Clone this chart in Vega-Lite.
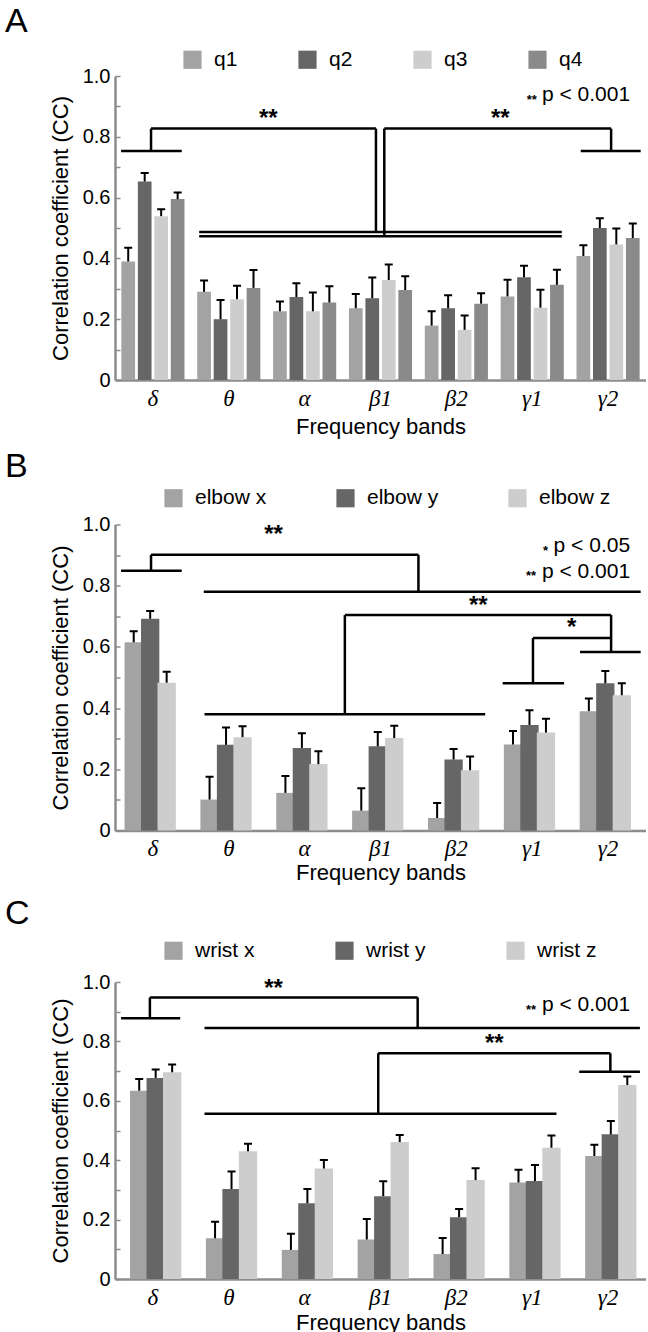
{
  "$schema": "https://vega.github.io/schema/vega-lite/v6.json",
  "padding": {"left": 5, "top": 5, "right": 0, "bottom": 0},
  "spacing": 12.5,
  "resolve": {"scale": {"color": "independent"}, "legend": {"color": "independent"}},
  "config": {
    "view": {"stroke": null},
    "font": "Liberation Sans",
    "axisY": {
      "values": [0, 0.1, 0.2, 0.3, 0.4, 0.5, 0.6, 0.7, 0.8, 0.9, 1.0],
      "labelExpr": "round(datum.value*10) % 2 == 0 ? (datum.value == 0 ? '0' : format(datum.value, '.1f')) : ''",
      "labelFontSize": 20, "labelColor": "black", "labelFont": "Liberation Sans",
      "domainColor": "#8c8c8c", "domainWidth": 2.5, "tickColor": "#8c8c8c", "tickWidth": 1.5, "tickSize": -5,
      "labelPadding": 10, "grid": false,
      "titleFontSize": 22, "titleFontWeight": "normal", "titleColor": "black", "titlePadding": 10
    },
    "axisX": {
      "labelFont": "Liberation Serif", "labelFontStyle": "italic", "labelFontSize": 23, "labelColor": "black",
      "labelAngle": 0, "ticks": false, "labelPadding": 7, "domainColor": "#8c8c8c", "domainWidth": 2.5,
      "titleFontSize": 22, "titleFontWeight": "normal", "titleColor": "black"
    },
    "legend": {
      "orient": "none", "direction": "horizontal", "symbolType": "square", "symbolSize": 330,
      "symbolStrokeWidth": 0, "labelFontSize": 21, "labelColor": "black", "labelOffset": 11,
      "title": null, "gridAlign": "all"
    },
    "title": {"anchor": "start", "frame": "group", "fontSize": 34, "fontWeight": "normal", "color": "black", "dx": -110}
  },
  "datasets": {
    "barsA": [
      {"band": "δ", "series": "q1", "value": 0.39, "err": 0.435},
      {"band": "δ", "series": "q2", "value": 0.653, "err": 0.681},
      {"band": "δ", "series": "q3", "value": 0.539, "err": 0.562},
      {"band": "δ", "series": "q4", "value": 0.595, "err": 0.617},
      {"band": "θ", "series": "q1", "value": 0.29, "err": 0.327},
      {"band": "θ", "series": "q2", "value": 0.2, "err": 0.263},
      {"band": "θ", "series": "q3", "value": 0.266, "err": 0.31},
      {"band": "θ", "series": "q4", "value": 0.303, "err": 0.362},
      {"band": "α", "series": "q1", "value": 0.226, "err": 0.258},
      {"band": "α", "series": "q2", "value": 0.273, "err": 0.318},
      {"band": "α", "series": "q3", "value": 0.226, "err": 0.288},
      {"band": "α", "series": "q4", "value": 0.255, "err": 0.308},
      {"band": "β1", "series": "q1", "value": 0.236, "err": 0.283},
      {"band": "β1", "series": "q2", "value": 0.269, "err": 0.337},
      {"band": "β1", "series": "q3", "value": 0.329, "err": 0.38},
      {"band": "β1", "series": "q4", "value": 0.296, "err": 0.341},
      {"band": "β2", "series": "q1", "value": 0.179, "err": 0.226},
      {"band": "β2", "series": "q2", "value": 0.236, "err": 0.279},
      {"band": "β2", "series": "q3", "value": 0.165, "err": 0.212},
      {"band": "β2", "series": "q4", "value": 0.251, "err": 0.285},
      {"band": "γ1", "series": "q1", "value": 0.275, "err": 0.33},
      {"band": "γ1", "series": "q2", "value": 0.338, "err": 0.376},
      {"band": "γ1", "series": "q3", "value": 0.238, "err": 0.297},
      {"band": "γ1", "series": "q4", "value": 0.313, "err": 0.363},
      {"band": "γ2", "series": "q1", "value": 0.408, "err": 0.443},
      {"band": "γ2", "series": "q2", "value": 0.5, "err": 0.532},
      {"band": "γ2", "series": "q3", "value": 0.446, "err": 0.498},
      {"band": "γ2", "series": "q4", "value": 0.467, "err": 0.515}
    ],
    "barsB": [
      {"band": "δ", "series": "elbow x", "value": 0.615, "err": 0.651},
      {"band": "δ", "series": "elbow y", "value": 0.692, "err": 0.717},
      {"band": "δ", "series": "elbow z", "value": 0.483, "err": 0.519},
      {"band": "θ", "series": "elbow x", "value": 0.101, "err": 0.176},
      {"band": "θ", "series": "elbow y", "value": 0.28, "err": 0.337},
      {"band": "θ", "series": "elbow z", "value": 0.305, "err": 0.341},
      {"band": "α", "series": "elbow x", "value": 0.123, "err": 0.178},
      {"band": "α", "series": "elbow y", "value": 0.27, "err": 0.318},
      {"band": "α", "series": "elbow z", "value": 0.217, "err": 0.259},
      {"band": "β1", "series": "elbow x", "value": 0.065, "err": 0.138},
      {"band": "β1", "series": "elbow y", "value": 0.275, "err": 0.322},
      {"band": "β1", "series": "elbow z", "value": 0.302, "err": 0.342},
      {"band": "β2", "series": "elbow x", "value": 0.041, "err": 0.09},
      {"band": "β2", "series": "elbow y", "value": 0.232, "err": 0.266},
      {"band": "β2", "series": "elbow z", "value": 0.197, "err": 0.242},
      {"band": "γ1", "series": "elbow x", "value": 0.281, "err": 0.325},
      {"band": "γ1", "series": "elbow y", "value": 0.345, "err": 0.393},
      {"band": "γ1", "series": "elbow z", "value": 0.32, "err": 0.365},
      {"band": "γ2", "series": "elbow x", "value": 0.39, "err": 0.431},
      {"band": "γ2", "series": "elbow y", "value": 0.481, "err": 0.521},
      {"band": "γ2", "series": "elbow z", "value": 0.442, "err": 0.481}
    ],
    "barsC": [
      {"band": "δ", "series": "wrist x", "value": 0.634, "err": 0.673},
      {"band": "δ", "series": "wrist y", "value": 0.677, "err": 0.705},
      {"band": "δ", "series": "wrist z", "value": 0.696, "err": 0.722},
      {"band": "θ", "series": "wrist x", "value": 0.137, "err": 0.193},
      {"band": "θ", "series": "wrist y", "value": 0.303, "err": 0.362},
      {"band": "θ", "series": "wrist z", "value": 0.43, "err": 0.455},
      {"band": "α", "series": "wrist x", "value": 0.098, "err": 0.152},
      {"band": "α", "series": "wrist y", "value": 0.255, "err": 0.303},
      {"band": "α", "series": "wrist z", "value": 0.372, "err": 0.401},
      {"band": "β1", "series": "wrist x", "value": 0.133, "err": 0.202},
      {"band": "β1", "series": "wrist y", "value": 0.279, "err": 0.329},
      {"band": "β1", "series": "wrist z", "value": 0.461, "err": 0.485},
      {"band": "β2", "series": "wrist x", "value": 0.084, "err": 0.138},
      {"band": "β2", "series": "wrist y", "value": 0.208, "err": 0.236},
      {"band": "β2", "series": "wrist z", "value": 0.333, "err": 0.373},
      {"band": "γ1", "series": "wrist x", "value": 0.325, "err": 0.368},
      {"band": "γ1", "series": "wrist y", "value": 0.33, "err": 0.384},
      {"band": "γ1", "series": "wrist z", "value": 0.442, "err": 0.483},
      {"band": "γ2", "series": "wrist x", "value": 0.414, "err": 0.452},
      {"band": "γ2", "series": "wrist y", "value": 0.487, "err": 0.532},
      {"band": "γ2", "series": "wrist z", "value": 0.653, "err": 0.682}
    ],
    "segA": [
      {"x1": 0.08, "x2": 0.88, "y1": 0.753, "y2": 0.753},
      {"x1": 0.475, "x2": 0.475, "y1": 0.753, "y2": 0.827},
      {"x1": 0.475, "x2": 3.44, "y1": 0.827, "y2": 0.827},
      {"x1": 3.44, "x2": 3.44, "y1": 0.827, "y2": 0.487},
      {"x1": 3.55, "x2": 6.54, "y1": 0.827, "y2": 0.827},
      {"x1": 3.55, "x2": 3.55, "y1": 0.827, "y2": 0.473},
      {"x1": 6.54, "x2": 6.54, "y1": 0.827, "y2": 0.753},
      {"x1": 6.14, "x2": 6.93, "y1": 0.753, "y2": 0.753},
      {"x1": 1.11, "x2": 5.89, "y1": 0.487, "y2": 0.487},
      {"x1": 1.11, "x2": 5.89, "y1": 0.473, "y2": 0.473}
    ],
    "starA": [
      {"x": 2.02, "y": 0.857, "label": "**"},
      {"x": 5.08, "y": 0.858, "label": "**"}
    ],
    "noteA": [
      {"x": 6.79, "y": 0.936, "label": "p < 0.001"}
    ],
    "smallA": [
      {"x": 5.56, "y": 0.921, "label": "**"}
    ],
    "segB": [
      {"x1": 0.08, "x2": 0.88, "y1": 0.849, "y2": 0.849},
      {"x1": 0.475, "x2": 0.475, "y1": 0.849, "y2": 0.901},
      {"x1": 0.475, "x2": 4.0, "y1": 0.901, "y2": 0.901},
      {"x1": 4.0, "x2": 4.0, "y1": 0.901, "y2": 0.78},
      {"x1": 1.17, "x2": 6.93, "y1": 0.78, "y2": 0.78},
      {"x1": 3.03, "x2": 6.54, "y1": 0.704, "y2": 0.704},
      {"x1": 3.03, "x2": 3.03, "y1": 0.704, "y2": 0.38},
      {"x1": 1.18, "x2": 4.88, "y1": 0.38, "y2": 0.38},
      {"x1": 6.54, "x2": 6.54, "y1": 0.704, "y2": 0.583},
      {"x1": 6.13, "x2": 6.93, "y1": 0.583, "y2": 0.583},
      {"x1": 5.51, "x2": 6.54, "y1": 0.629, "y2": 0.629},
      {"x1": 5.51, "x2": 5.51, "y1": 0.629, "y2": 0.481},
      {"x1": 5.11, "x2": 5.92, "y1": 0.481, "y2": 0.481}
    ],
    "starB": [
      {"x": 2.09, "y": 0.965, "label": "**"},
      {"x": 4.79, "y": 0.734, "label": "**"},
      {"x": 6.02, "y": 0.662, "label": "*"}
    ],
    "noteB": [
      {"x": 6.79, "y": 0.929, "label": "p < 0.05"},
      {"x": 6.79, "y": 0.844, "label": "p < 0.001"}
    ],
    "smallB": [
      {"x": 5.71, "y": 0.915, "label": "*"},
      {"x": 5.55, "y": 0.833, "label": "**"}
    ],
    "segC": [
      {"x1": 0.08, "x2": 0.86, "y1": 0.878, "y2": 0.878},
      {"x1": 0.46, "x2": 0.46, "y1": 0.878, "y2": 0.948},
      {"x1": 0.46, "x2": 3.99, "y1": 0.948, "y2": 0.948},
      {"x1": 3.99, "x2": 3.99, "y1": 0.948, "y2": 0.845},
      {"x1": 1.18, "x2": 6.92, "y1": 0.845, "y2": 0.845},
      {"x1": 3.47, "x2": 6.53, "y1": 0.76, "y2": 0.76},
      {"x1": 3.47, "x2": 3.47, "y1": 0.76, "y2": 0.556},
      {"x1": 1.18, "x2": 5.82, "y1": 0.556, "y2": 0.556},
      {"x1": 6.53, "x2": 6.53, "y1": 0.76, "y2": 0.698},
      {"x1": 6.12, "x2": 6.92, "y1": 0.698, "y2": 0.698}
    ],
    "starC": [
      {"x": 2.09, "y": 0.976, "label": "**"},
      {"x": 5.0, "y": 0.791, "label": "**"}
    ],
    "noteC": [
      {"x": 6.79, "y": 0.922, "label": "p < 0.001"}
    ],
    "smallC": [
      {"x": 5.55, "y": 0.906, "label": "**"}
    ]
  },
  "vconcat": [
    {
      "width": 531, "height": 304,
      "title": {"text": "A", "offset": 10},
      "resolve": {"scale": {"x": "independent"}},
      "layer": [
        {
          "data": {"name": "barsA"},
          "encoding": {
            "x": {"field": "band", "type": "nominal", "sort": ["δ", "θ", "α", "β1", "β2", "γ1", "γ2"], "scale": {"type": "band", "paddingInner": 0.276, "paddingOuter": 0.138}, "title": "Frequency bands", "axis": {"titlePadding": 6}},
            "xOffset": {"field": "series", "type": "nominal", "sort": ["q1", "q2", "q3", "q4"]}
          },
          "layer": [
            {
              "mark": {"type": "bar", "width": 13.7},
              "encoding": {
                "y": {"field": "value", "type": "quantitative", "scale": {"domain": [0, 1], "nice": false}, "title": "Correlation coefficient (CC)"},
                "color": {"field": "series", "type": "nominal", "scale": {"domain": ["q1", "q2", "q3", "q4"], "range": ["#a3a3a3", "#666666", "#cdcdcd", "#8a8a8a"]}, "legend": {"legendX": 67, "legendY": -27, "columnPadding": 59}}
              }
            },
            {
              "mark": {"type": "bar", "width": 2, "color": "black"},
              "encoding": {"y": {"field": "value", "type": "quantitative"}, "y2": {"field": "err"}}
            },
            {
              "mark": {"type": "bar", "width": 8, "color": "black", "stroke": "black", "strokeWidth": 2},
              "encoding": {"y": {"field": "err", "type": "quantitative"}, "y2": {"field": "err"}}
            }
          ]
        },
        {
          "layer": [
            {
              "data": {"name": "segA"},
              "mark": {"type": "rule", "color": "black", "strokeWidth": 2.5},
              "encoding": {
                "x": {"field": "x1", "type": "quantitative", "scale": {"domain": [0, 7], "nice": false, "zero": false}, "axis": null},
                "x2": {"field": "x2"},
                "y": {"field": "y1", "type": "quantitative"},
                "y2": {"field": "y2"}
              }
            },
            {
              "data": {"name": "starA"},
              "mark": {"type": "text", "fontSize": 24, "fontWeight": "bold", "align": "center", "baseline": "middle", "color": "black"},
              "encoding": {"x": {"field": "x", "type": "quantitative", "axis": null}, "y": {"field": "y", "type": "quantitative"}, "text": {"field": "label"}}
            },
            {
              "data": {"name": "noteA"},
              "mark": {"type": "text", "fontSize": 21, "align": "right", "baseline": "middle", "color": "black"},
              "encoding": {"x": {"field": "x", "type": "quantitative", "axis": null}, "y": {"field": "y", "type": "quantitative"}, "text": {"field": "label"}}
            },
            {
              "data": {"name": "smallA"},
              "mark": {"type": "text", "fontSize": 13, "fontWeight": "bold", "align": "right", "baseline": "middle", "color": "black"},
              "encoding": {"x": {"field": "x", "type": "quantitative", "axis": null}, "y": {"field": "y", "type": "quantitative"}, "text": {"field": "label"}}
            }
          ]
        }
      ]
    },
    {
      "width": 531, "height": 306,
      "title": {"text": "B", "offset": 3.5},
      "resolve": {"scale": {"x": "independent"}},
      "layer": [
        {
          "data": {"name": "barsB"},
          "encoding": {
            "x": {"field": "band", "type": "nominal", "sort": ["δ", "θ", "α", "β1", "β2", "γ1", "γ2"], "scale": {"type": "band", "paddingInner": 0.276, "paddingOuter": 0.138}, "title": "Frequency bands", "axis": {"titlePadding": 2}},
            "xOffset": {"field": "series", "type": "nominal", "sort": ["elbow x", "elbow y", "elbow z"]}
          },
          "layer": [
            {
              "mark": {"type": "bar", "width": 18.3},
              "encoding": {
                "y": {"field": "value", "type": "quantitative", "scale": {"domain": [0, 1], "nice": false}, "title": "Correlation coefficient (CC)"},
                "color": {"field": "series", "type": "nominal", "scale": {"domain": ["elbow x", "elbow y", "elbow z"], "range": ["#a3a3a3", "#666666", "#cdcdcd"]}, "legend": {"legendX": 48, "legendY": -37, "columnPadding": 68}}
              }
            },
            {
              "mark": {"type": "bar", "width": 2, "color": "black"},
              "encoding": {"y": {"field": "value", "type": "quantitative"}, "y2": {"field": "err"}}
            },
            {
              "mark": {"type": "bar", "width": 8, "color": "black", "stroke": "black", "strokeWidth": 2},
              "encoding": {"y": {"field": "err", "type": "quantitative"}, "y2": {"field": "err"}}
            }
          ]
        },
        {
          "layer": [
            {
              "data": {"name": "segB"},
              "mark": {"type": "rule", "color": "black", "strokeWidth": 2.5},
              "encoding": {
                "x": {"field": "x1", "type": "quantitative", "scale": {"domain": [0, 7], "nice": false, "zero": false}, "axis": null},
                "x2": {"field": "x2"},
                "y": {"field": "y1", "type": "quantitative"},
                "y2": {"field": "y2"}
              }
            },
            {
              "data": {"name": "starB"},
              "mark": {"type": "text", "fontSize": 24, "fontWeight": "bold", "align": "center", "baseline": "middle", "color": "black"},
              "encoding": {"x": {"field": "x", "type": "quantitative", "axis": null}, "y": {"field": "y", "type": "quantitative"}, "text": {"field": "label"}}
            },
            {
              "data": {"name": "noteB"},
              "mark": {"type": "text", "fontSize": 21, "align": "right", "baseline": "middle", "color": "black"},
              "encoding": {"x": {"field": "x", "type": "quantitative", "axis": null}, "y": {"field": "y", "type": "quantitative"}, "text": {"field": "label"}}
            },
            {
              "data": {"name": "smallB"},
              "mark": {"type": "text", "fontSize": 13, "fontWeight": "bold", "align": "right", "baseline": "middle", "color": "black"},
              "encoding": {"x": {"field": "x", "type": "quantitative", "axis": null}, "y": {"field": "y", "type": "quantitative"}, "text": {"field": "label"}}
            }
          ]
        }
      ]
    },
    {
      "width": 531, "height": 297,
      "title": {"text": "C", "offset": 9.5},
      "resolve": {"scale": {"x": "independent"}},
      "layer": [
        {
          "data": {"name": "barsC"},
          "encoding": {
            "x": {"field": "band", "type": "nominal", "sort": ["δ", "θ", "α", "β1", "β2", "γ1", "γ2"], "scale": {"type": "band", "paddingInner": 0.276, "paddingOuter": 0.138}, "title": "Frequency bands", "axis": {"titlePadding": 3}},
            "xOffset": {"field": "series", "type": "nominal", "sort": ["wrist x", "wrist y", "wrist z"]}
          },
          "layer": [
            {
              "mark": {"type": "bar", "width": 18.3},
              "encoding": {
                "y": {"field": "value", "type": "quantitative", "scale": {"domain": [0, 1], "nice": false}, "title": "Correlation coefficient (CC)"},
                "color": {"field": "series", "type": "nominal", "scale": {"domain": ["wrist x", "wrist y", "wrist z"], "range": ["#a3a3a3", "#666666", "#cdcdcd"]}, "legend": {"legendX": 48, "legendY": -42, "columnPadding": 79}}
              }
            },
            {
              "mark": {"type": "bar", "width": 2, "color": "black"},
              "encoding": {"y": {"field": "value", "type": "quantitative"}, "y2": {"field": "err"}}
            },
            {
              "mark": {"type": "bar", "width": 8, "color": "black", "stroke": "black", "strokeWidth": 2},
              "encoding": {"y": {"field": "err", "type": "quantitative"}, "y2": {"field": "err"}}
            }
          ]
        },
        {
          "layer": [
            {
              "data": {"name": "segC"},
              "mark": {"type": "rule", "color": "black", "strokeWidth": 2.5},
              "encoding": {
                "x": {"field": "x1", "type": "quantitative", "scale": {"domain": [0, 7], "nice": false, "zero": false}, "axis": null},
                "x2": {"field": "x2"},
                "y": {"field": "y1", "type": "quantitative"},
                "y2": {"field": "y2"}
              }
            },
            {
              "data": {"name": "starC"},
              "mark": {"type": "text", "fontSize": 24, "fontWeight": "bold", "align": "center", "baseline": "middle", "color": "black"},
              "encoding": {"x": {"field": "x", "type": "quantitative", "axis": null}, "y": {"field": "y", "type": "quantitative"}, "text": {"field": "label"}}
            },
            {
              "data": {"name": "noteC"},
              "mark": {"type": "text", "fontSize": 21, "align": "right", "baseline": "middle", "color": "black"},
              "encoding": {"x": {"field": "x", "type": "quantitative", "axis": null}, "y": {"field": "y", "type": "quantitative"}, "text": {"field": "label"}}
            },
            {
              "data": {"name": "smallC"},
              "mark": {"type": "text", "fontSize": 13, "fontWeight": "bold", "align": "right", "baseline": "middle", "color": "black"},
              "encoding": {"x": {"field": "x", "type": "quantitative", "axis": null}, "y": {"field": "y", "type": "quantitative"}, "text": {"field": "label"}}
            }
          ]
        }
      ]
    }
  ]
}
